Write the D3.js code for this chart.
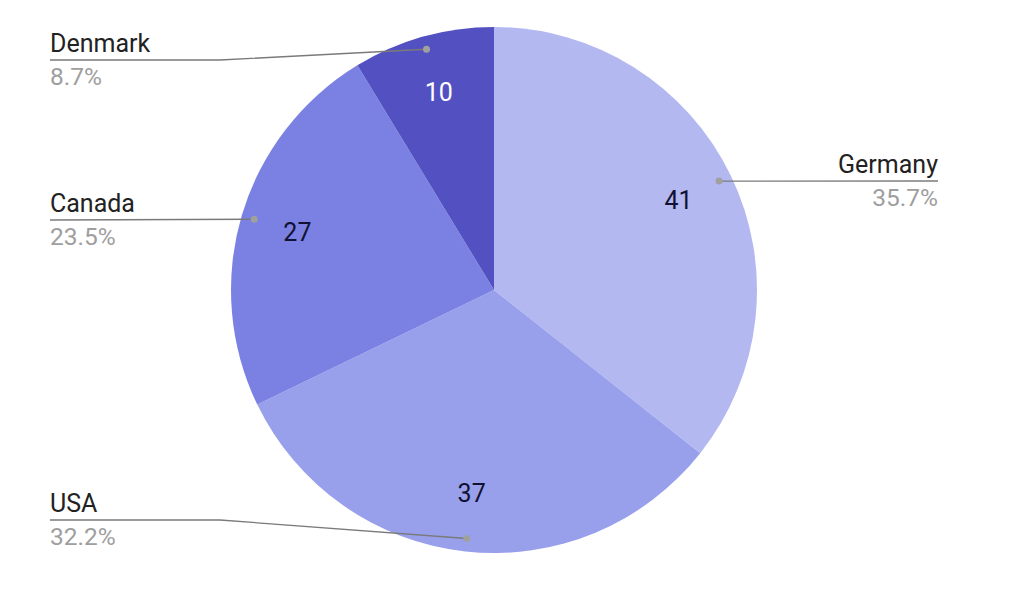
<!DOCTYPE html>
<html><head><meta charset="utf-8">
<script src="https://cdn.jsdelivr.net/npm/d3@7"></script>
<style>body{margin:0;background:#fff;}svg{display:block;font-family:Roboto,"Noto Sans",sans-serif;}</style>
</head><body>
<svg id="chart" width="1024" height="605"></svg>
<script>
const categories = ["Germany", "USA", "Canada", "Denmark"];
const values = [41, 37, 27, 10];
const colors = ["#b3b8f1", "#99a0eb", "#7a81e3", "#5351c1"];
const valueTextColors = ["#111133", "#111133", "#111133", "#ffffff"];

const svg = d3.select("#chart");
const cx = 494, cy = 290, R = 263;
const g = svg.append("g").attr("transform", `translate(${cx},${cy})`);
const data = categories.map((c, i) => ({name: c, value: values[i], color: colors[i], tc: valueTextColors[i]}));
const total = d3.sum(values);
const pie = d3.pie().value(d => d.value).sort(null);
const arcs = pie(data);
const arc = d3.arc().innerRadius(0).outerRadius(R);
const labelArc = d3.arc().innerRadius(205).outerRadius(205);
const dotArc = d3.arc().innerRadius(250).outerRadius(250);

g.selectAll("path.slice").data(arcs).join("path")
  .attr("d", arc).attr("fill", d => d.data.color);

g.selectAll("text.val").data(arcs).join("text")
  .attr("x", d => labelArc.centroid(d)[0])
  .attr("y", d => labelArc.centroid(d)[1])
  .attr("dy", "0.34em")
  .attr("text-anchor", "middle")
  .attr("font-size", 25)
  .attr("fill", d => d.data.tc)
  .text(d => d.data.value);

const side = {Germany: "right", USA: "left", Canada: "left", Denmark: "left"};
const lineY = {Germany: 181, USA: 520, Canada: 220, Denmark: 60};
const fmt = d3.format(".1f");
const lg = svg.append("g");
arcs.forEach(d => {
  const n = d.data.name;
  const [dx, dy] = dotArc.centroid(d);
  const px = cx + dx, py = cy + dy;
  const ly = lineY[n];
  let pts;
  if (side[n] === "right") {
    pts = [[px, py], [938, ly]];
  } else if (Math.abs(py - ly) > 3) {
    pts = [[50, ly], [220, ly], [px, py]];
  } else {
    pts = [[50, ly], [px, py]];
  }
  lg.append("path").attr("d", d3.line()(pts)).attr("fill", "none")
    .attr("stroke", "#7a7a7a").attr("stroke-width", 1.3);
  lg.append("circle").attr("cx", px).attr("cy", py).attr("r", 3.5).attr("fill", "#a0a0a0");
  const tx = side[n] === "right" ? 938 : 50;
  const anchor = side[n] === "right" ? "end" : "start";
  lg.append("text").attr("x", tx).attr("y", ly - 8).attr("text-anchor", anchor)
    .attr("font-size", 25).attr("fill", "#222").text(n);
  lg.append("text").attr("x", tx).attr("y", ly + 25).attr("text-anchor", anchor)
    .attr("font-size", 24.5).attr("fill", "#9e9e9e").text(fmt(d.data.value / total * 100) + "%");
});
</script>
</body></html>
